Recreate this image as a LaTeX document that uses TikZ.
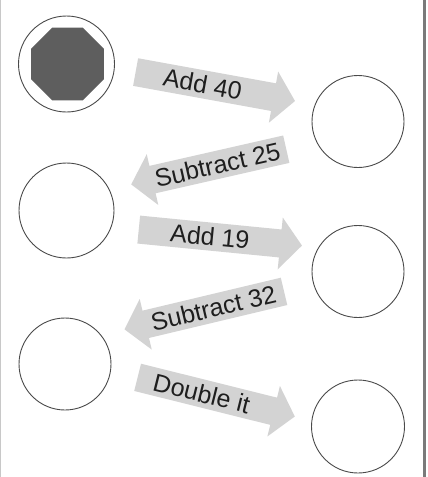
\documentclass[tikz,border=0pt]{standalone}
\usepackage{fontspec}
\setmainfont{Liberation Sans}
\usetikzlibrary{shapes.arrows,shapes.geometric}
\definecolor{arrowgray}{HTML}{D3D3D3}
\definecolor{ringgray}{HTML}{4A4A4A}
\definecolor{octgray}{HTML}{5E5E5E}
\definecolor{textgray}{HTML}{1E1E1E}
\definecolor{edgegray}{HTML}{7A7A7A}
\definecolor{lightedge}{HTML}{C8C8C8}
\begin{document}
\begin{tikzpicture}[x=1pt,y=-1pt,
  ring/.style={circle,draw=ringgray,line width=0.9pt,inner sep=0pt},
  opbox/.style={single arrow,fill=arrowgray,draw=none,minimum width=52pt,
    single arrow head extend=8pt,single arrow tip angle=100,inner sep=0pt,
    text=textgray,font=\fontsize{25}{25}\selectfont,anchor=center},
  leftbox/.style={opbox,shape border rotate=180}]
\useasboundingbox (0,0) rectangle (428,477);
\fill[white] (0,0) rectangle (428,477);
\draw[lightedge,line width=1.2pt] (0.6,0) -- (0.6,477);
\draw[edgegray,line width=2.5pt] (424.5,0) -- (424.5,477);

\node[ring,minimum size=96pt] (c1) at (66.5,64) {};
\node[regular polygon,regular polygon sides=8,fill=octgray,inner sep=0pt,minimum size=79pt] (oct) at (67.5,64) {};
\node[ring,minimum size=92pt] (c2) at (358,121.5) {};
\node[ring,minimum size=95pt] (c3) at (66.5,210.5) {};
\node[ring,minimum size=92pt] (c4) at (358,271.5) {};
\node[ring,minimum size=92pt] (c5) at (65,364) {};
\node[ring,minimum size=93pt] (c6) at (358,426.5) {};

\node[opbox,minimum height=162pt,rotate=-10.3] (a1) at (209.5,85.5) {\hspace*{-14pt}Add 40};
\node[leftbox,minimum height=159pt,rotate=12.8] (a2) at (214.5,165.5) {Subtract 25\hspace*{-6pt}};
\node[opbox,minimum height=164pt,rotate=-5.6] (a3) at (214.5,237) {\hspace*{-9pt}Add 19};
\node[leftbox,minimum height=164pt,rotate=13.4] (a4) at (210,309) {Subtract 32\hspace*{-7pt}};
\node[opbox,minimum height=162pt,rotate=-14] (a5) at (210.5,395.5) {\hspace*{-18pt}Double it};
\end{tikzpicture}
\end{document}
